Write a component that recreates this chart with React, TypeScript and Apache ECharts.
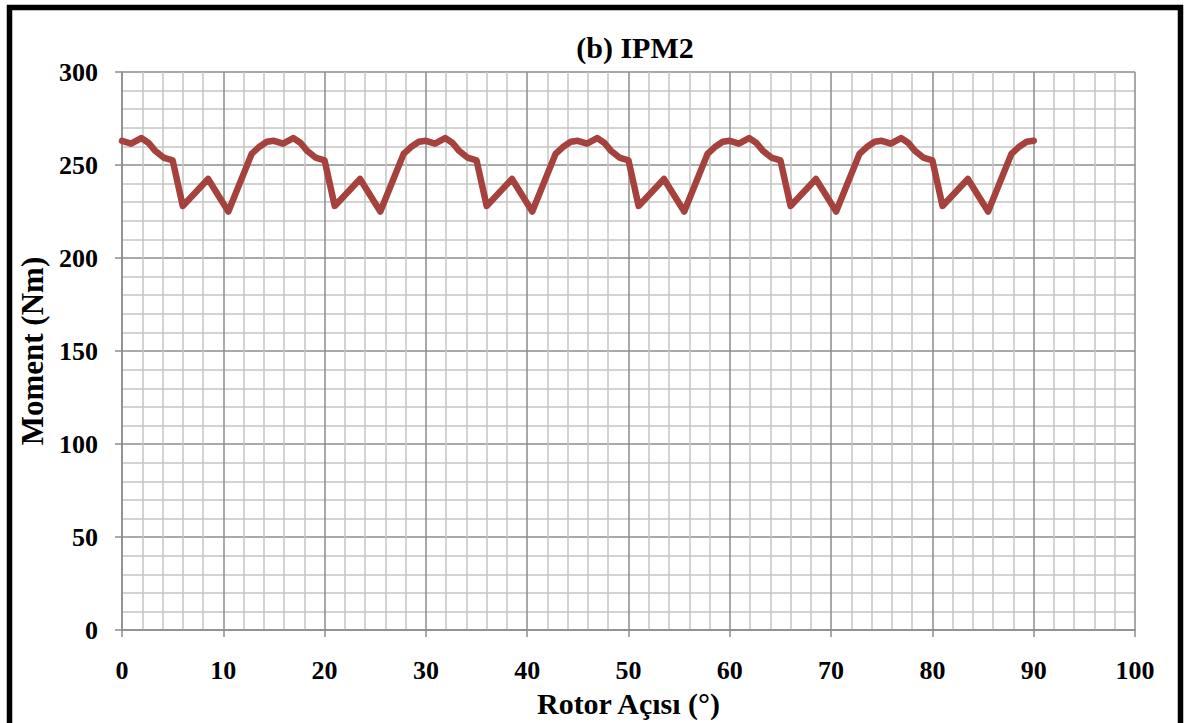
import React, { useEffect, useRef } from "react";
import * as echarts from "echarts";

const chartTitle = "(b) IPM2";
const xAxisName = "Rotor Açısı (°)";
const yAxisName = "Moment (Nm)";

const rotorAngle: number[] = [
  0, 0.9, 1.9, 2.6, 3.3, 4.1, 5.0, 6.0, 8.5, 10.5, 12.8, 13.6, 14.3,
  15, 15.9, 16.9, 17.6, 18.3, 19.1, 20.0, 21.0, 23.5, 25.5, 27.8, 28.6, 29.3,
  30, 30.9, 31.9, 32.6, 33.3, 34.1, 35.0, 36.0, 38.5, 40.5, 42.8, 43.6, 44.3,
  45, 45.9, 46.9, 47.6, 48.3, 49.1, 50.0, 51.0, 53.5, 55.5, 57.8, 58.6, 59.3,
  60, 60.9, 61.9, 62.6, 63.3, 64.1, 65.0, 66.0, 68.5, 70.5, 72.8, 73.6, 74.3,
  75, 75.9, 76.9, 77.6, 78.3, 79.1, 80.0, 81.0, 83.5, 85.5, 87.8, 88.6, 89.3,
  90,
];

const moment: number[] = [
  263, 261.5, 264.5, 262, 257.5, 254, 252.5, 228, 242.5, 225, 256, 260, 262.5,
  263, 261.5, 264.5, 262, 257.5, 254, 252.5, 228, 242.5, 225, 256, 260, 262.5,
  263, 261.5, 264.5, 262, 257.5, 254, 252.5, 228, 242.5, 225, 256, 260, 262.5,
  263, 261.5, 264.5, 262, 257.5, 254, 252.5, 228, 242.5, 225, 256, 260, 262.5,
  263, 261.5, 264.5, 262, 257.5, 254, 252.5, 228, 242.5, 225, 256, 260, 262.5,
  263, 261.5, 264.5, 262, 257.5, 254, 252.5, 228, 242.5, 225, 256, 260, 262.5,
  263,
];

const xTicks = { min: 0, max: 100, interval: 10 };
const yTicks = { min: 0, max: 300, interval: 50 };

const FONT = '"Liberation Serif", "Times New Roman", serif';

export default function App() {
  const ref = useRef<HTMLDivElement | null>(null);

  useEffect(() => {
    if (!ref.current) return;
    const chart = echarts.init(ref.current, undefined, { renderer: "svg" });
    const data = rotorAngle.map((a, i) => [a, moment[i]]);
    chart.setOption({
      animation: false,
      backgroundColor: "#ffffff",
      title: {
        text: chartTitle,
        left: 630,
        textAlign: "center",
        top: 27,
        textStyle: { fontFamily: FONT, fontWeight: "bold", fontSize: 30, color: "#000" },
      },
      grid: { left: 122, right: 53, top: 72, bottom: 91, containLabel: false },
      xAxis: {
        type: "value",
        min: xTicks.min,
        max: xTicks.max,
        interval: xTicks.interval,
        name: xAxisName,
        nameLocation: "middle",
        nameGap: 56,
        nameTextStyle: { fontFamily: FONT, fontWeight: "bold", fontSize: 30, color: "#000" },
        axisLine: { show: true, lineStyle: { color: "#8C8C8C", width: 1.5 } },
        axisTick: { show: true, length: 7, lineStyle: { color: "#8C8C8C", width: 1.5 } },
        axisLabel: { margin: 27, fontFamily: FONT, fontWeight: "bold", fontSize: 26, color: "#000" },
        splitLine: { show: true, lineStyle: { color: "#8C8C8C", width: 1.5 } },
        minorTick: { show: false, splitNumber: 5 },
        minorSplitLine: { show: true, lineStyle: { color: "#C4C4C4", width: 1.5 } },
      },
      yAxis: {
        type: "value",
        min: yTicks.min,
        max: yTicks.max,
        interval: yTicks.interval,
        name: yAxisName,
        nameLocation: "middle",
        nameGap: 68,
        nameRotate: 90,
        nameTextStyle: { fontFamily: FONT, fontWeight: "bold", fontSize: 31, color: "#000" },
        axisLine: { show: true, lineStyle: { color: "#8C8C8C", width: 1.5 } },
        axisTick: { show: true, length: 7, lineStyle: { color: "#8C8C8C", width: 1.5 } },
        axisLabel: { margin: 24, fontFamily: FONT, fontWeight: "bold", fontSize: 26, color: "#000" },
        splitLine: { show: true, lineStyle: { color: "#8C8C8C", width: 1.5 } },
        minorTick: { show: false, splitNumber: 5 },
        minorSplitLine: { show: true, lineStyle: { color: "#C4C4C4", width: 1.5 } },
      },
      graphic: [
        {
          type: "rect",
          shape: { x: 9.5, y: 7.5, width: 1171, height: 760 },
          style: { fill: "none", stroke: "#000", lineWidth: 5.5 },
          z: 100,
        },
      ],
      series: [
        {
          type: "line",
          data,
          showSymbol: false,
          symbol: "none",
          lineStyle: { color: "#A6423E", width: 6.5, cap: "round", join: "round" },
          itemStyle: { color: "#A6423E" },
          z: 5,
        },
      ],
    });
    return () => chart.dispose();
  }, []);

  return (
    <div
      ref={ref}
      style={{ position: "fixed", left: 0, top: 0, width: 1188, height: 723, background: "#fff" }}
    />
  );
}
